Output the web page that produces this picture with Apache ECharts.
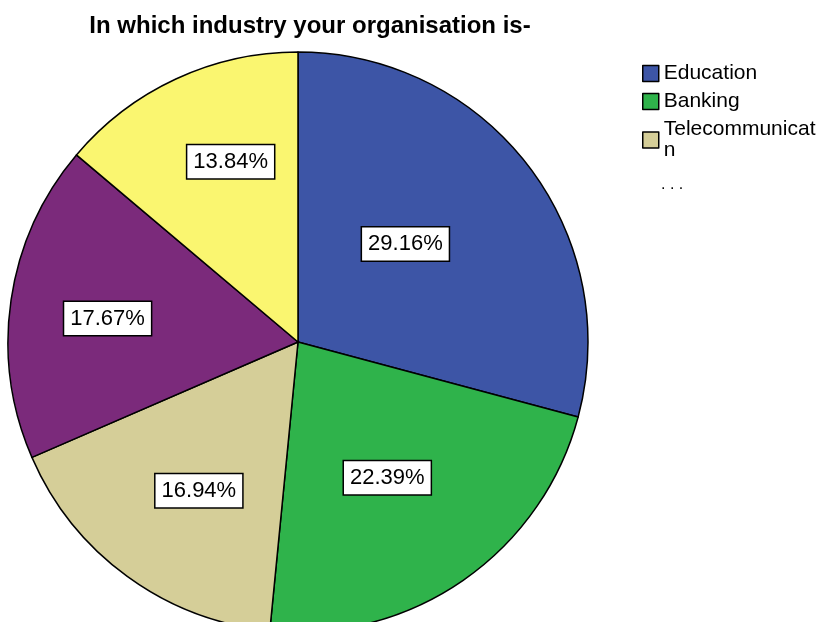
<!DOCTYPE html>
<html>
<head>
<meta charset="utf-8">
<script src="https://cdn.jsdelivr.net/npm/echarts@6/dist/echarts.min.js"></script>
<style>
  html, body { margin: 0; padding: 0; background: #fff; }
  #main { width: 833px; height: 622px; }
</style>
</head>
<body>
<div id="main"></div>
<script>
// slice names, clockwise from 12 o'clock
const industries = ['Education', 'Banking', 'Telecommunication', 'Other A', 'Other B'];
const shares = [29.16, 22.39, 16.94, 17.67, 13.84];
const colors = ['#3d55a6', '#2fb34b', '#d5ce98', '#7b2a7b', '#faf670'];
// only the first three appear in the legend, the rest is "..."
const legendNames = ['Education', 'Banking', 'Telecommunication'];
// nudges so the boxes sit where the original tool put them
const labelNudge = [[-10, -8], [5, 14], [-12, 29], [-44, -2], [-5, -46]];

const chart = echarts.init(document.getElementById('main'));

const option = {
  animation: false,
  title: {
    text: 'In which industry your organisation is-',
    left: 305,
    top: 9,
    textAlign: 'center',
    textStyle: {
      fontFamily: 'Liberation Sans',
      fontSize: 24,
      fontWeight: 'bold',
      color: '#000'
    }
  },
  legend: {
    data: legendNames,
    orient: 'vertical',
    left: 637,
    top: 58,
    itemWidth: 16,
    itemHeight: 16,
    itemGap: 7,
    icon: 'rect',
    itemStyle: { borderColor: '#000', borderWidth: 1.5 },
    formatter: (name) => name === 'Telecommunication' ? 'Telecommunicat\nn' : name,
    textStyle: {
      fontFamily: 'Liberation Sans',
      fontSize: 21,
      color: '#000',
      lineHeight: 21
    }
  },
  graphic: [{
    type: 'text',
    left: 661,
    top: 177,
    style: { text: '. . .', font: '16px Liberation Sans', fill: '#000' }
  }],
  series: [{
    type: 'pie',
    center: [298, 342],
    radius: [0, 290],
    startAngle: 90,
    clockwise: true,
    silent: true,
    data: industries.map((n, i) => ({ name: n, value: shares[i], itemStyle: { color: colors[i] } })),
    itemStyle: { borderColor: '#000', borderWidth: 1.5 },
    label: {
      show: true,
      position: 'inside',
      formatter: (p) => shares[p.dataIndex].toFixed(2) + '%',
      fontFamily: 'Liberation Sans',
      fontSize: 22,
      color: '#000',
      backgroundColor: '#fff',
      borderColor: '#000',
      borderWidth: 1.5,
      padding: [6, 6, 5, 6]
    },
    labelLine: { show: false },
    labelLayout: (p) => ({ dx: labelNudge[p.dataIndex][0], dy: labelNudge[p.dataIndex][1] })
  }]
};

chart.setOption(option);
</script>
</body>
</html>
